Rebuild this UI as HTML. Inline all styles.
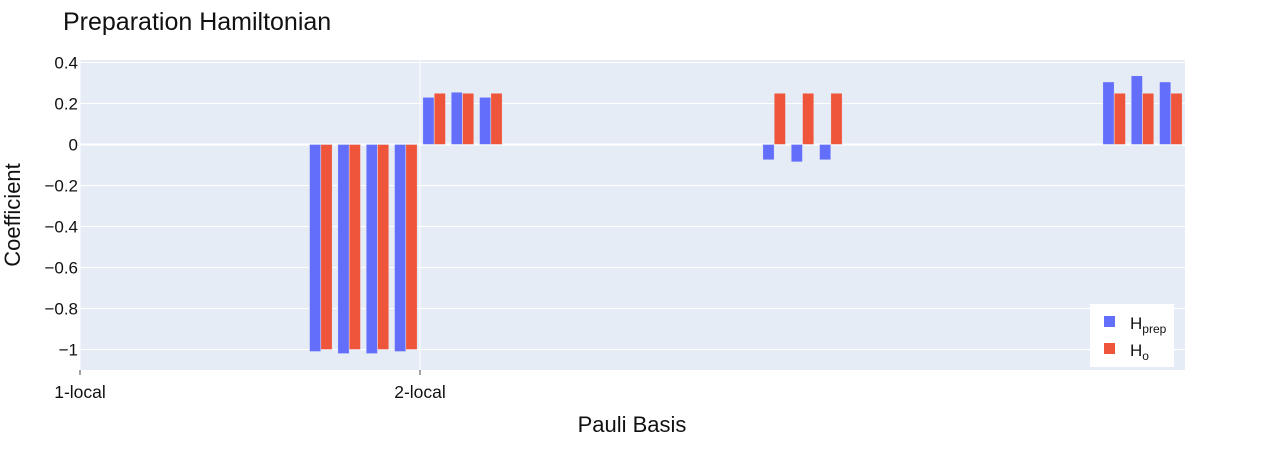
<!DOCTYPE html>
<html><head><meta charset="utf-8"><style>
body{margin:0;background:#fff;font-family:"Liberation Sans",Arial,sans-serif}
svg text{font-family:"Liberation Sans",Arial,sans-serif}
</style></head><body>
<svg id="c" width="1265" height="450">
<text x="63" y="30" font-size="25" fill="#111">Preparation Hamiltonian</text>
<rect x="80" y="60" width="1105" height="310" fill="#e5ecf6"/>
<g id="grid"></g><g id="bars"></g><g id="axes"></g>
<text x="632" y="432" font-size="22" text-anchor="middle" fill="#111">Pauli Basis</text>
<text transform="translate(20,215) rotate(-90)" font-size="22" text-anchor="middle" fill="#111">Coefficient</text>
<g>
<rect x="1090" y="304" width="84" height="63" fill="#fff"/>
<g><rect x="1104" y="316" width="11" height="11" fill="#636efa"/>
<text x="1130" y="329" font-size="17" fill="#111">H<tspan font-size="12" dy="4">prep</tspan></text></g>
<g><rect x="1104" y="343" width="11" height="11" fill="#ef553b"/>
<text x="1130" y="356" font-size="17" fill="#111">H<tspan font-size="12" dy="4">o</tspan></text></g>
</g>
</svg>
<script>
const nCats = 39;
const prepValues = [0,0,0,0,0,0,0,0,-1.01,-1.02,-1.02,-1.01,0.23,0.255,0.23,0,0,0,0,0,0,0,0,0,-0.075,-0.085,-0.075,0,0,0,0,0,0,0,0,0,0.305,0.335,0.305];
const hoValues = [0,0,0,0,0,0,0,0,-1,-1,-1,-1,0.25,0.25,0.25,0,0,0,0,0,0,0,0,0,0.25,0.25,0.25,0,0,0,0,0,0,0,0,0,0.25,0.25,0.25];
const yTicks = [0.4,0.2,0,-0.2,-0.4,-0.6,-0.8,-1];
const yTickLabels = ["0.4","0.2","0","−0.2","−0.4","−0.6","−0.8","−1"];
const xTickIdx = [0,12];
const xTickLabels = ["1-local","2-local"];
const L=80,R=1185,T=60,B=370,yMin=-1.1,yMax=0.412;
const bw=(R-L)/nCats;
const X=i=>L+i*bw;
const Y=v=>T+(yMax-v)/(yMax-yMin)*(B-T);
const NS="http://www.w3.org/2000/svg";
function mk(tag,attrs,parent){const e=document.createElementNS(NS,tag);for(const k in attrs)e.setAttribute(k,attrs[k]);document.getElementById(parent).appendChild(e);return e;}
yTicks.forEach((v,i)=>{
 const g=mk('line',{x1:L,x2:R,y1:Y(v),y2:Y(v),stroke:'#fff','stroke-width':v===0?2:1},'grid');
 
 
 const t=mk('text',{x:L-2,y:Y(v)+6,'font-size':17,'text-anchor':'end',fill:'#111'},'axes');
 t.textContent=yTickLabels[i];
 
 
});
xTickIdx.forEach((ix,i)=>{
 const g=mk('line',{x1:X(ix),x2:X(ix),y1:T,y2:B,stroke:'#fff','stroke-width':1},'grid');
 
 
 const tk=mk('line',{x1:X(ix),x2:X(ix),y1:B,y2:B+5,stroke:'#444'},'axes');
 
 
 const t=mk('text',{x:X(ix),y:B+28,'font-size':17.5,'text-anchor':'middle',fill:'#111'},'axes');
 t.textContent=xTickLabels[i];
 
 
});
const gw=bw*0.8, w=gw/2;
for(let i=0;i<nCats;i++){
 [[prepValues,'#636efa',0],[hoValues,'#ef553b',1]].forEach(([arr,col,k])=>{
  const v=arr[i];const y0=Y(0),y1=Y(v);
  const r=mk('rect',{x:X(i)+bw*0.1+k*w,y:Math.min(y0,y1),width:w,height:Math.abs(y1-y0),fill:col,stroke:'#e5ecf6','stroke-width':0.5},'bars');
  
  
 });
}
</script>
</body></html>
